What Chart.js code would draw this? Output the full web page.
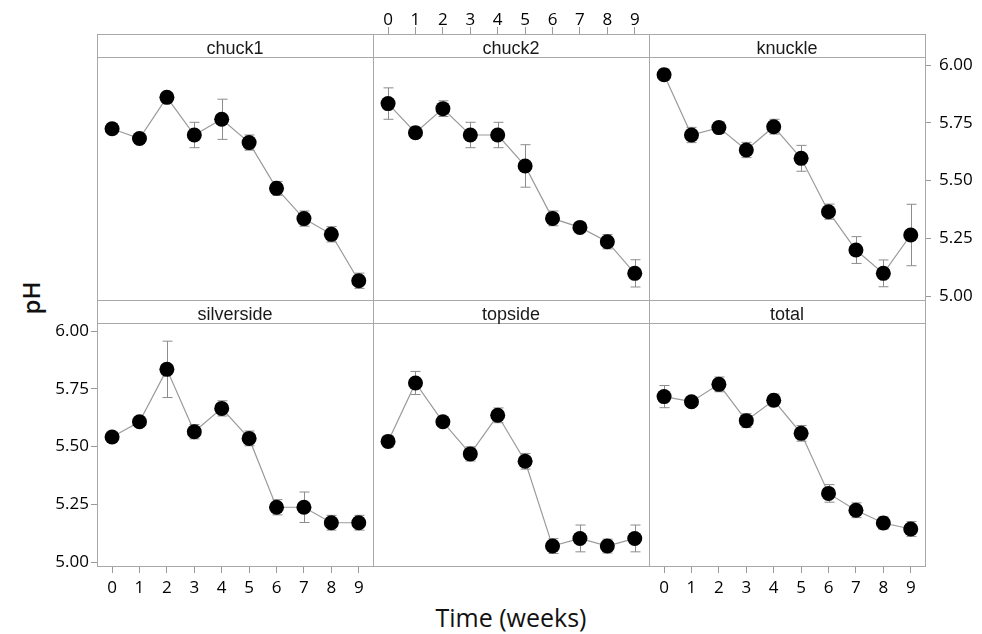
<!DOCTYPE html>
<html>
<head>
<meta charset="utf-8">
<script src="https://cdn.jsdelivr.net/npm/chart.js@4.4.1/dist/chart.umd.min.js"></script>
<style>
  html, body { margin: 0; padding: 0; background: #fff; }
  #wrap { position: relative; width: 982px; height: 634px; overflow: hidden; }
  #wrap canvas { position: absolute; }
  .strip { position: absolute; width: 276px; height: 23px; line-height: 23px; text-align: center;
           font-family: "Liberation Sans", Arial, sans-serif; font-size: 18px; color: #1a1a1a; z-index: 5; }
  .axis-title { position: absolute; font-family: "Open Sans", sans-serif; color: #111; white-space: nowrap; }
</style>
</head>
<body>
<div id="wrap">
  <div class="axis-title" style="left:30px; top:298px; font-size:24px; font-weight:600; transform: translate(-50%,-50%) rotate(-90deg);">pH</div>
  <div class="axis-title" style="left:511px; top:617px; font-size:25px; transform: translate(-50%,-50%);">Time (weeks)</div>
</div>
<script>
// 数据
var weeks = [0, 1, 2, 3, 4, 5, 6, 7, 8, 9];
var phTicks = [5.00, 5.25, 5.50, 5.75, 6.00];

var chuck1 = [5.724, 5.682, 5.860, 5.697, 5.765, 5.664, 5.466, 5.335, 5.267, 5.066];
var chuck1Err = [0.023, 0.02, 0.02, 0.055, 0.087, 0.033, 0.03, 0.033, 0.033, 0.033];

var chuck2 = [5.833, 5.707, 5.811, 5.697, 5.697, 5.563, 5.336, 5.297, 5.235, 5.098];
var chuck2Err = [0.068, 0.025, 0.034, 0.055, 0.055, 0.092, 0.032, 0.02, 0.031, 0.059];

var knuckle = [5.958, 5.697, 5.729, 5.632, 5.733, 5.596, 5.365, 5.199, 5.098, 5.264];
var knuckleErr = [0.025, 0.033, 0.025, 0.033, 0.032, 0.056, 0.033, 0.058, 0.058, 0.133];

var silverside = [5.541, 5.607, 5.834, 5.564, 5.665, 5.535, 5.237, 5.237, 5.170, 5.170];
var silversideErr = [0.02, 0.02, 0.122, 0.031, 0.033, 0.032, 0.033, 0.066, 0.032, 0.032];

var topside = [5.522, 5.775, 5.607, 5.468, 5.635, 5.436, 5.069, 5.102, 5.069, 5.102];
var topsideErr = [0.025, 0.05, 0.02, 0.031, 0.032, 0.034, 0.032, 0.058, 0.03, 0.058];

var total = [5.716, 5.694, 5.769, 5.612, 5.700, 5.557, 5.297, 5.224, 5.169, 5.143];
var totalErr = [0.048, 0.02, 0.032, 0.03, 0.027, 0.034, 0.038, 0.032, 0.027, 0.032];

// 面板布局
var colX = [97, 373, 649];
var rowY = [34, 300];
var PW = 276, PH = 266, STRIP = 23;
var M = 60, AXX = 45, AXY = 55;
var X_MIN = -0.55, X_MAX = 9.52;
var Y_MIN = 4.9827, Y_MAX = 6.1342;

var panels = [
  { name: 'chuck1', col: 0, row: 0, values: chuck1, err: chuck1Err },
  { name: 'chuck2', col: 1, row: 0, values: chuck2, err: chuck2Err, top: true },
  { name: 'knuckle', col: 2, row: 0, values: knuckle, err: knuckleErr, right: true },
  { name: 'silverside', col: 0, row: 1, values: silverside, err: silversideErr, left: true, bottom: true },
  { name: 'topside', col: 1, row: 1, values: topside, err: topsideErr },
  { name: 'total', col: 2, row: 1, values: total, err: totalErr, bottom: true }
];

// 误差线
var errorBarPlugin = {
  id: 'errorBars',
  beforeDatasetsDraw: function(chart) {
    var ctx = chart.ctx;
    var xs = chart.scales.x, ys = chart.scales.y;
    var errs = chart.options.plugins.errorBars.err;
    var vals = chart.data.datasets[0].data;
    ctx.save();
    ctx.strokeStyle = '#8c8c8c';
    ctx.lineWidth = 1;
    vals.forEach(function(p, i) {
      var x = Math.round(xs.getPixelForValue(p.x)) + 0.5;
      var y1 = ys.getPixelForValue(p.y + errs[i]);
      var y2 = ys.getPixelForValue(p.y - errs[i]);
      ctx.beginPath();
      ctx.moveTo(x, y1); ctx.lineTo(x, y2);
      ctx.moveTo(x - 5, y1); ctx.lineTo(x + 5, y1);
      ctx.moveTo(x - 5, y2); ctx.lineTo(x + 5, y2);
      ctx.stroke();
    });
    ctx.restore();
  }
};

// 面板边框和标题栏
var framePlugin = {
  id: 'frame',
  afterDraw: function(chart) {
    var a = chart.chartArea, ctx = chart.ctx;
    ctx.save();
    ctx.strokeStyle = '#a8a8a8';
    ctx.lineWidth = 1;
    ctx.strokeRect(Math.round(a.left) + 0.5, Math.round(a.top) + 0.5, Math.round(a.width), Math.round(a.height));
    var sy = Math.round(a.top) + STRIP + 0.5;
    ctx.beginPath();
    ctx.moveTo(a.left, sy); ctx.lineTo(a.right, sy);
    ctx.stroke();
    ctx.restore();
  }
};

var tickFont = { family: '"Open Sans", sans-serif', size: 17 };

var wrap = document.getElementById('wrap');

panels.forEach(function(p) {
  var px = colX[p.col], py = rowY[p.row];

  var strip = document.createElement('div');
  strip.className = 'strip';
  strip.style.left = px + 'px';
  strip.style.top = (py + 3) + 'px';
  strip.textContent = p.name;
  wrap.appendChild(strip);

  var canvas = document.createElement('canvas');
  canvas.width = PW + 2 * M;
  canvas.height = PH + 2 * M;
  canvas.style.left = (px - M) + 'px';
  canvas.style.top = (py - M) + 'px';
  canvas.style.width = canvas.width + 'px';
  canvas.style.height = canvas.height + 'px';
  wrap.appendChild(canvas);

  var showX = !!(p.top || p.bottom);
  var showY = !!(p.left || p.right);

  new Chart(canvas.getContext('2d'), {
    type: 'line',
    data: {
      datasets: [{
        data: weeks.map(function(w, i) { return { x: w, y: p.values[i] }; }),
        borderColor: '#9a9a9a',
        borderWidth: 1.2,
        pointRadius: 7.5,
        pointBackgroundColor: '#000',
        pointBorderColor: '#000',
        pointBorderWidth: 0,
        tension: 0,
        fill: false
      }]
    },
    options: {
      responsive: false,
      animation: false,
      devicePixelRatio: 1,
      layout: {
        padding: {
          left: p.left ? M - AXY : M,
          right: p.right ? M - AXY : M,
          top: p.top ? M - AXX : M,
          bottom: p.bottom ? M - AXX : M
        }
      },
      plugins: {
        legend: { display: false },
        tooltip: { enabled: false },
        errorBars: { err: p.err }
      },
      scales: {
        x: {
          type: 'linear',
          min: X_MIN,
          max: X_MAX,
          position: p.top ? 'top' : 'bottom',
          display: showX,
          border: { display: false },
          grid: { drawOnChartArea: false, drawTicks: true, tickLength: 7, color: '#9a9a9a' },
          ticks: { font: tickFont, color: '#000', padding: p.top ? -3 : 5, maxRotation: 0,
                   callback: function(v) { return String(v); } },
          afterBuildTicks: function(s) { s.ticks = weeks.map(function(v) { return { value: v }; }); },
          afterFit: function(s) { if (showX) s.height = AXX; }
        },
        y: {
          type: 'linear',
          min: Y_MIN,
          max: Y_MAX,
          position: p.right ? 'right' : 'left',
          display: showY,
          border: { display: false },
          grid: { drawOnChartArea: false, drawTicks: true, tickLength: 6, color: '#9a9a9a' },
          ticks: { font: tickFont, color: '#000', padding: p.right ? 8 : 2,
                   callback: function(v) { return v.toFixed(2); } },
          afterBuildTicks: function(s) { s.ticks = phTicks.map(function(v) { return { value: v }; }); },
          afterFit: function(s) { if (showY) s.width = AXY; }
        }
      }
    },
    plugins: [errorBarPlugin, framePlugin]
  });
});
</script>
</body>
</html>
